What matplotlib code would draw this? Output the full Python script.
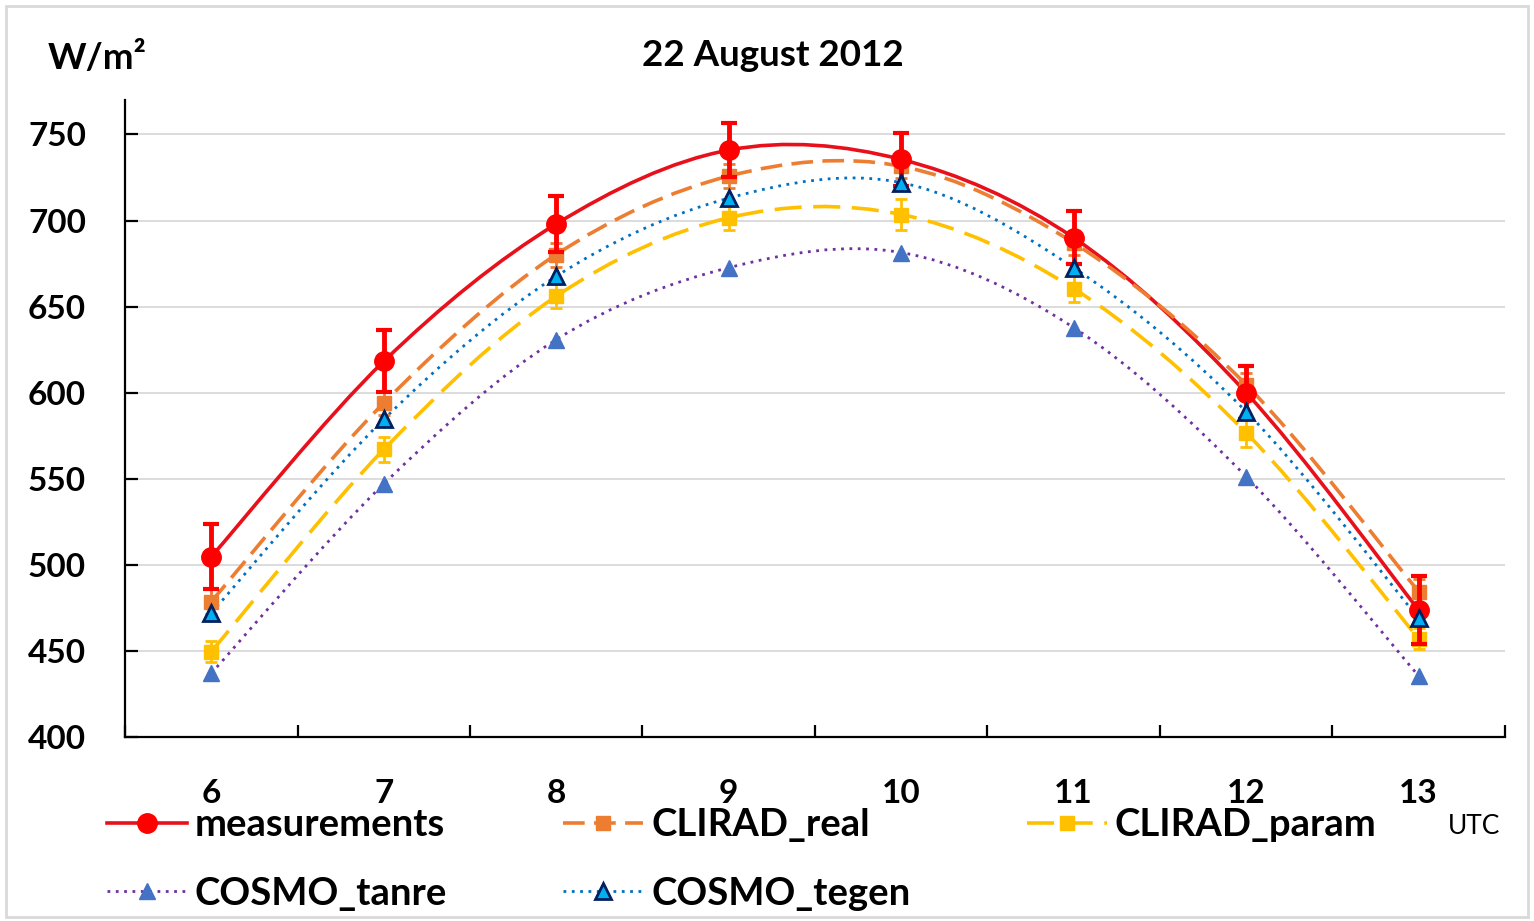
import matplotlib
matplotlib.use('Agg')
import matplotlib.pyplot as plt
import numpy as np
from matplotlib.path import Path
from matplotlib.patches import PathPatch, Rectangle
from matplotlib.lines import Line2D

plt.rcParams['font.family'] = ['Lato', 'DejaVu Sans']

# data
hours = [6, 7, 8, 9, 10, 11, 12, 13]
measurements = [504.7, 618.2, 698.0, 740.9, 735.5, 690.0, 600.0, 473.8]
measurements_err = [19, 18, 16, 15.5, 15.5, 15.5, 15.5, 19.5]
clirad_real = [478.7, 594.0, 680.2, 725.8, 731.5, 687.0, 604.6, 484.5]
clirad_real_err = [7, 7, 7, 7, 7, 7, 7, 7]
clirad_param = [449.6, 567.0, 656.0, 701.6, 703.5, 660.5, 576.7, 457.2]
clirad_param_err = [6, 7, 7, 7, 9, 8, 8, 6]
cosmo_tegen = [472.0, 584.5, 667.6, 713.0, 722.0, 672.6, 589.0, 469.0]
cosmo_tanre = [437.0, 547.0, 630.8, 672.6, 681.4, 637.8, 551.3, 435.5]
y_ticks = [400, 450, 500, 550, 600, 650, 700, 750]


def smooth_path(xs, ys):
    # catmull-rom style bezier, like the smoothed lines of a spreadsheet chart
    pts = np.column_stack([xs, ys]).astype(float)
    n = len(pts)
    verts = [pts[0]]
    codes = [Path.MOVETO]
    for i in range(n - 1):
        p0 = pts[max(i - 1, 0)]
        p1 = pts[i]
        p2 = pts[i + 1]
        p3 = pts[min(i + 2, n - 1)]
        verts += [p1 + (p2 - p0) / 6., p2 - (p3 - p1) / 6., p2]
        codes += [Path.CURVE4] * 3
    return Path(verts, codes)


fig = plt.figure(figsize=(15.34, 9.21), dpi=100)
ax = fig.add_axes([0.0815, 0.1998, 0.8995, 0.6916])

red = '#FF0000'
orange = '#ED7D31'
yellow = '#FFC000'
purple = '#7030A0'
blue = '#4472C4'
tegen_line = '#0070C0'

styles = {
    'measurements': dict(color='#E8101A', lw=2.6, ls='-'),
    'CLIRAD_real': dict(color=orange, lw=2.6, ls=(0, (6.0, 2.6))),
    'CLIRAD_param': dict(color=yellow, lw=2.6, ls=(0, (7.5, 3.2))),
    'COSMO_tanre': dict(color=purple, lw=2.0, ls=(0, (1, 2.0))),
    'COSMO_tegen': dict(color=tegen_line, lw=2.0, ls=(0, (1, 2.0))),
}
series = {
    'measurements': measurements,
    'CLIRAD_real': clirad_real,
    'CLIRAD_param': clirad_param,
    'COSMO_tanre': cosmo_tanre,
    'COSMO_tegen': cosmo_tegen,
}

for name, vals in series.items():
    st = styles[name]
    ax.add_patch(PathPatch(smooth_path(hours, vals), fill=False,
                           edgecolor=st['color'], lw=st['lw'],
                           linestyle=st['ls'], zorder=2))

# markers + error bars
ax.errorbar(hours, cosmo_tanre, fmt='^', ms=11, color=blue, mec=blue, zorder=3)
ax.errorbar(hours, clirad_param, yerr=clirad_param_err, fmt='s', ms=10,
            color=yellow, ecolor=yellow, elinewidth=2, capsize=4.5, capthick=2,
            zorder=4)
ax.errorbar(hours, clirad_real, yerr=clirad_real_err, fmt='s', ms=10,
            color=orange, ecolor=orange, elinewidth=2, capsize=4.5, capthick=2,
            zorder=5)
ax.errorbar(hours, measurements, yerr=measurements_err, fmt='o', ms=14,
            color=red, ecolor=red, elinewidth=3.5, capsize=5.5, capthick=3,
            zorder=6)
ax.errorbar(hours, cosmo_tegen, fmt='^', ms=12, color='#00B0F0',
            mec='#002060', mew=2, zorder=7)

ax.set_xlim(5.5, 13.5)
ax.set_ylim(400, 770)
ax.set_yticks(y_ticks)
ax.set_xticks(hours)
ax.set_xticks(np.arange(5.5, 13.6, 1.0), minor=True)
ax.tick_params(axis='x', which='major', length=0, pad=30, labelsize=24)
ax.tick_params(axis='x', which='minor', direction='in', length=9, width=1.6)
ax.tick_params(axis='y', direction='in', length=9, width=1.6, pad=28,
               labelsize=24)
for lab in ax.get_xticklabels() + ax.get_yticklabels():
    lab.set_fontweight('bold')

ax.grid(axis='y', color='#D9D9D9', lw=1.3)
ax.set_axisbelow(True)
for s in ['top', 'right']:
    ax.spines[s].set_visible(False)
for s in ['left', 'bottom']:
    ax.spines[s].set_linewidth(1.6)

fig.text(0.504, 0.94, '22 August 2012', ha='center', va='center',
         fontsize=26.5, fontweight='bold')
fig.text(0.031, 0.937, 'W/m²', ha='left', va='center',
         fontsize=26.5, fontweight='bold')
fig.text(0.944, 0.103, 'UTC', ha='left', va='center', fontsize=19)

# legend
def proxy(name, marker, ms, mfc, mec, mew=1):
    st = styles[name]
    return Line2D([], [], color=st['color'], lw=st['lw'], ls=st['ls'],
                  marker=marker, ms=ms, mfc=mfc, mec=mec, mew=mew)

handles = [
    proxy('measurements', 'o', 14, red, red),
    proxy('COSMO_tanre', '^', 11, blue, blue),
    proxy('CLIRAD_real', 's', 10, orange, orange),
    proxy('COSMO_tegen', '^', 12, '#00B0F0', '#002060', 2),
    proxy('CLIRAD_param', 's', 10, yellow, yellow),
]
labels = ['measurements', 'COSMO_tanre', 'CLIRAD_real', 'COSMO_tegen',
          'CLIRAD_param']
fig.legend(handles, labels, ncol=3, loc='upper left',
           bbox_to_anchor=(0.057, 0.143), frameon=False, borderpad=0,
           handlelength=2.1, handletextpad=0.2, columnspacing=3.05,
           labelspacing=0.9, prop={'size': 27.5, 'weight': 'bold'})

fig.patches.append(Rectangle((0.004, 0.004), 0.992, 0.99, fill=False,
                             edgecolor='#D9D9D9', lw=2,
                             transform=fig.transFigure, figure=fig))

fig.savefig('out.png', dpi=100)
